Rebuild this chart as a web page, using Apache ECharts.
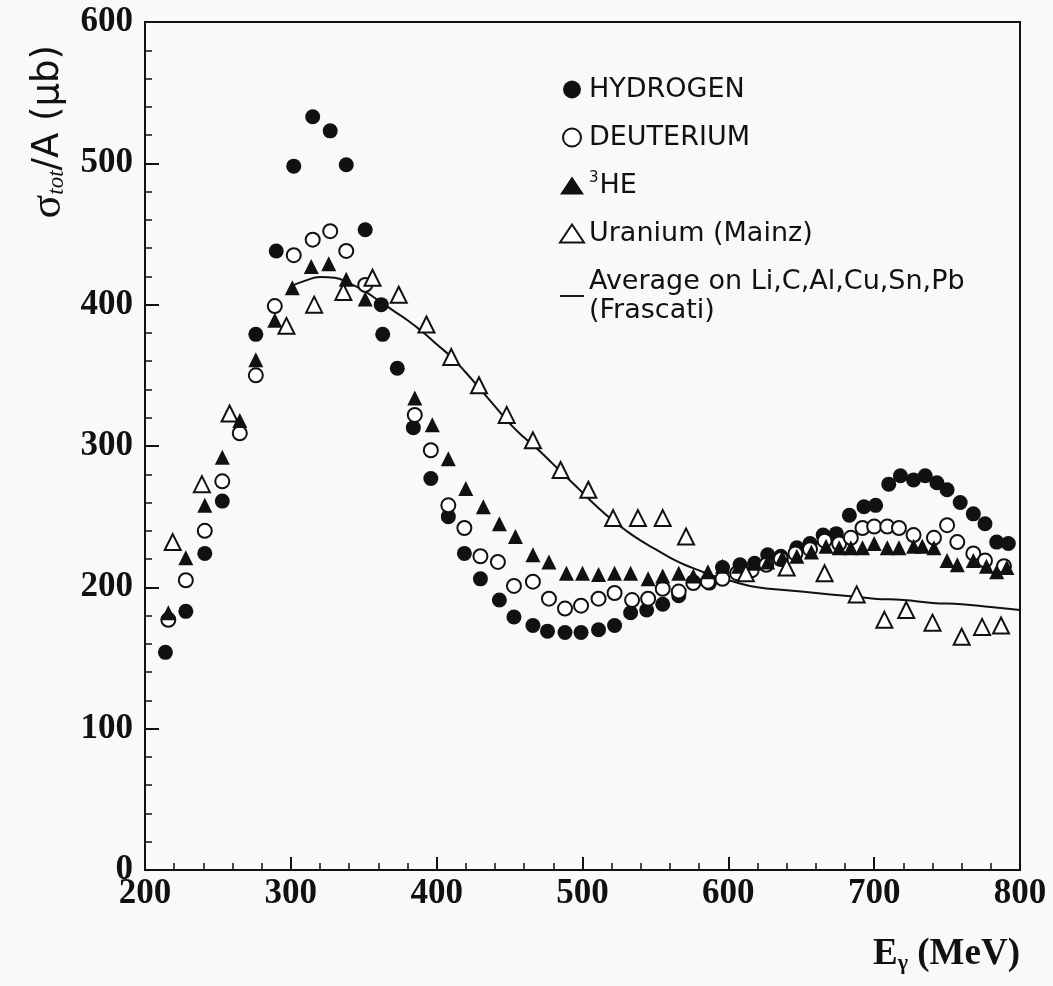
<!DOCTYPE html>
<html><head><meta charset="utf-8">
<script src="https://cdn.jsdelivr.net/npm/echarts@6/dist/echarts.min.js"></script>
<style>html,body{margin:0;padding:0;background:#f9f9f7}#c{width:1053px;height:986px}</style>
</head><body><div id="c"></div>
<script>
const xTicks = [200, 300, 400, 500, 600, 700, 800];
const yTicks = [0, 100, 200, 300, 400, 500, 600];
const legendNames = ['HYDROGEN', 'DEUTERIUM', '3HE', 'Uranium (Mainz)', 'Average on Li,C,Al,Cu,Sn,Pb'];

const hydrogen = [[214,154],[228,183],[241,224],[253,261],[276,379],[290,438],[302,498],[315,533],[327,523],[338,499],[351,453],[362,400],[363,379],[373,355],[384,313],[396,277],[408,250],[419,224],[430,206],[443,191],[453,179],[466,173],[476,169],[488,168],[499,168],[511,170],[522,173],[533,182],[544,184],[555,188],[566,194],[576,204],[587,203],[596,214],[608,216],[618,217],[627,223],[636,222],[647,228],[656,231],[665,237],[674,238],[683,251],[693,257],[701,258],[710,273],[718,279],[727,276],[735,279],[743,274],[750,269],[759,260],[768,252],[776,245],[784,232],[792,231]];
const deuterium = [[216,177],[228,205],[241,240],[253,275],[265,309],[276,350],[289,399],[302,435],[315,446],[327,452],[338,438],[351,414],[385,322],[396,297],[408,258],[419,242],[430,222],[442,218],[453,201],[466,204],[477,192],[488,185],[499,187],[511,192],[522,196],[534,191],[545,192],[555,199],[566,197],[576,203],[586,204],[596,206],[606,210],[616,212],[626,216],[636,220],[646,224],[656,227],[666,233],[676,231],[684,235],[692,242],[700,243],[709,243],[717,242],[727,237],[741,235],[750,244],[757,232],[768,224],[776,219],[789,215]];
const helium3 = [[216,182],[228,221],[241,258],[253,292],[265,318],[276,361],[289,389],[301,412],[314,427],[326,429],[338,418],[351,404],[385,334],[397,315],[408,291],[420,270],[432,257],[443,245],[454,236],[466,223],[477,218],[489,210],[500,210],[511,209],[522,210],[533,210],[545,206],[555,208],[566,210],[576,208],[586,211],[596,215],[607,215],[617,217],[627,218],[637,221],[647,222],[657,225],[667,229],[676,228],[684,228],[692,228],[700,231],[709,228],[717,228],[727,229],[733,229],[741,228],[750,219],[757,216],[768,219],[777,215],[784,211],[791,214]];
const uranium = [[219,232],[239,273],[258,323],[297,385],[316,400],[336,409],[356,419],[374,407],[393,386],[410,363],[429,343],[448,322],[466,304],[485,283],[504,269],[521,249],[538,249],[555,249],[571,236],[612,210],[640,214],[666,210],[688,195],[707,177],[722,184],[740,175],[760,165],[774,172],[787,173]];
const frascati = [[300,413],[310,417],[320,419.5],[330,419],[340,415],[350,410],[360,403],[370,396],[380,389],[390,381],[400,372],[410,363],[420,352],[430,340],[440,328],[450,316],[460,306],[470,297],[480,287],[490,277],[500,267],[510,257],[520,248],[530,240],[540,233],[550,227],[560,221],[570,216],[580,212],[590,208],[600,205],[620,200],[640,198],[660,196],[680,194],[700,192],[720,191],[740,189],[760,188],[780,186],[800,184]];

const ink = '#111111';
const chart = echarts.init(document.getElementById('c'));
const tickFont = {color: ink, fontFamily: 'Liberation Serif', fontWeight: 'bold', fontSize: 35};
chart.setOption({
  backgroundColor: '#f9f9f7',
  animation: false,
  grid: {left: 145, right: 33, top: 22, bottom: 116, show: true, borderColor: ink, borderWidth: 2, backgroundColor: 'transparent'},
  xAxis: {
    type: 'value', min: 200, max: 800, interval: 100,
    axisLine: {show: true, lineStyle: {color: ink, width: 2}},
    axisTick: {show: true, inside: true, length: 13, lineStyle: {color: ink, width: 2}},
    minorTick: {show: true, splitNumber: 5, length: 7, lineStyle: {color: ink, width: 1.5}},
    splitLine: {show: false},
    axisLabel: Object.assign({margin: 6, formatter: v => xTicks.includes(v) ? String(v) : ''}, tickFont),
    name: '{e|E}{g|γ}{e| (MeV)}', nameLocation: 'end', nameGap: 0,
    nameTextStyle: {
      align: 'right', verticalAlign: 'top', padding: [64, 0, 0, 0],
      rich: {
        e: {fontFamily: 'Liberation Serif', fontWeight: 'bold', fontSize: 37, color: ink},
        g: {fontFamily: 'Liberation Serif', fontWeight: 'bold', fontSize: 22, color: ink, verticalAlign: 'bottom', padding: [18, 0, 0, 0]}
      }
    }
  },
  yAxis: {
    type: 'value', min: 0, max: 600, interval: 100,
    axisLine: {show: true, lineStyle: {color: ink, width: 2}},
    axisTick: {show: true, inside: true, length: 14, lineStyle: {color: ink, width: 2}},
    minorTick: {show: true, splitNumber: 5, length: 7, lineStyle: {color: ink, width: 1.5}},
    splitLine: {show: false},
    axisLabel: Object.assign({margin: 12, formatter: v => yTicks.includes(v) ? String(v) : ''}, tickFont)
  },
  legend: {
    orient: 'vertical', left: 554, top: 70, itemWidth: 24, itemHeight: 18, itemGap: 19,
    data: [
      {name: 'HYDROGEN'}, {name: 'DEUTERIUM'}, {name: '3HE'}, {name: 'Uranium (Mainz)'},
      {name: 'Average on Li,C,Al,Cu,Sn,Pb', icon: 'path://M0,0H40V3.2H0Z', itemStyle: {color: ink}}
    ],
    textStyle: {
      fontFamily: 'DejaVu Sans', fontSize: 27, color: ink, lineHeight: 29,
      rich: {
        sup: {fontFamily: 'DejaVu Sans', fontSize: 15, color: ink, verticalAlign: 'top', padding: [0, 1, 13, 0]},
        n: {fontFamily: 'DejaVu Sans', fontSize: 27, color: ink}
      }
    },
    formatter: function (name) {
      if (name === '3HE') return '{sup|3}{n|HE}';
      if (name.indexOf('Average') === 0) return name + '\n(Frascati)';
      return name;
    }
  },
  graphic: [{
    type: 'text', left: 26, top: 45, rotation: Math.PI / 2,
    style: {
      rich: {
        s: {fontFamily: 'Liberation Serif', fontSize: 44, fill: ink},
        t: {fontFamily: 'Liberation Serif', fontStyle: 'italic', fontSize: 23, fill: ink, padding: [18, 0, 0, 0]},
        a: {fontFamily: 'DejaVu Sans', fontSize: 37, fill: ink}
      },
      text: '{s|σ}{t|tot}{a|/A (μb)}'
    }
  }],
  series: [
    {name: 'Average on Li,C,Al,Cu,Sn,Pb', type: 'line', data: frascati, smooth: true, symbol: 'none', z: 1,
     lineStyle: {color: ink, width: 2}, itemStyle: {color: ink}},
    {name: 'HYDROGEN', type: 'scatter', data: hydrogen, symbol: 'circle', symbolSize: 15, z: 3,
     itemStyle: {color: ink, opacity: 1}},
    {name: 'DEUTERIUM', type: 'scatter', data: deuterium, symbol: 'emptyCircle', symbolSize: 14, z: 3,
     itemStyle: {color: ink, borderColor: ink, borderWidth: 2.5, opacity: 1}},
    {name: '3HE', type: 'scatter', data: helium3, symbol: 'triangle', symbolSize: 15, z: 3,
     itemStyle: {color: ink, opacity: 1}},
    {name: 'Uranium (Mainz)', type: 'scatter', data: uranium, symbol: 'emptyTriangle', symbolSize: 16, z: 3,
     itemStyle: {color: ink, borderColor: ink, borderWidth: 2, opacity: 1}}
  ]
});
</script></body></html>
